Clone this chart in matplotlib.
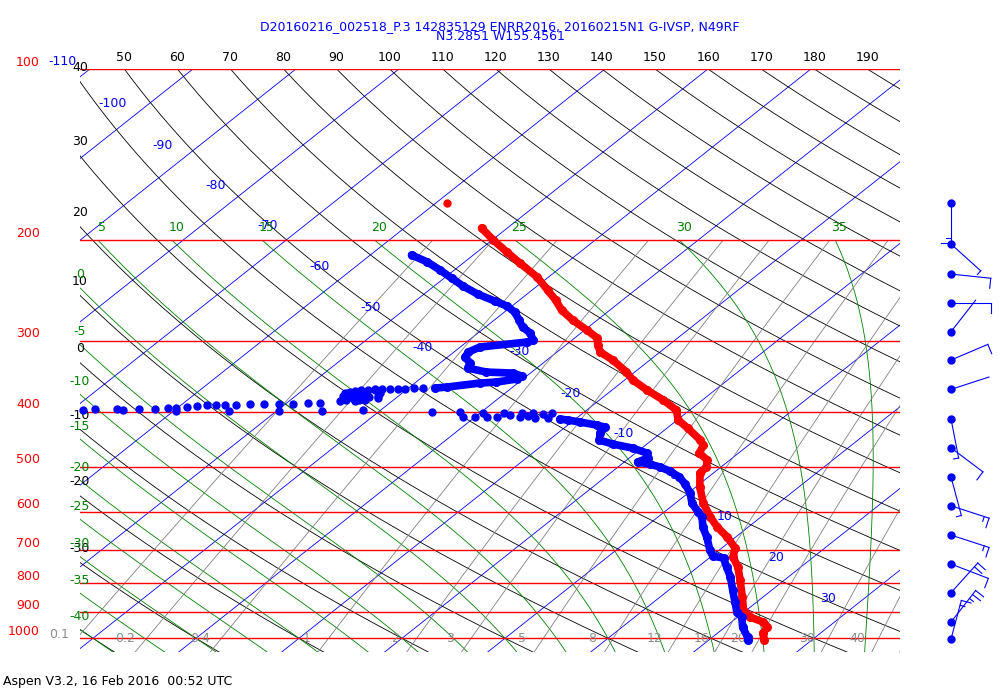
"""Skew-T log-P plot of a dropsonde sounding, Aspen style.
"""
import numpy as np
import matplotlib
matplotlib.use('Agg')
import matplotlib.pyplot as plt
from matplotlib import transforms

# temperature profile (hPa, degC)
t_pres = [190.3, 199.7, 209.7, 219.2, 232.0, 244.5, 254.6, 265.1, 276.0, 287.4,
          296.9, 305.4, 314.2, 324.5, 340.7, 351.9, 366.4, 381.5, 397.3, 413.7,
          427.3, 448.6, 457.7, 472.8, 486.3, 500.3, 512.6, 542.4, 578.8, 612.5,
          637.8, 664.1, 694.3, 720.0, 749.8, 790.3, 846.5, 892.1, 917.8, 936.6,
          955.7, 979.2, 1007.3]
t_temp = [-52.5, -49.9, -47.1, -44.5, -41.1, -38.5, -36.5, -34.7, -32.4, -29.8,
          -27.8, -26.9, -25.8, -23.6, -20.8, -19.2, -16.6, -13.8, -11.3, -9.9,
          -8.0, -5.3, -4.4, -3.8, -2.2, -1.4, -1.3, 0.4, 2.7, 5.1,
          7.0, 9.2, 11.3, 12.2, 13.9, 15.7, 18.0, 19.7, 21.2, 23.1,
          24.1, 24.4, 25.4]
# lone temperature point above the profile
t_odd_pres = [172.0]
t_odd_temp = [-58.9]

# dewpoint, upper continuous part
td_up_pres = [212.2, 218.3, 225.5, 232.9, 240.6, 248.5, 255.6, 260.8, 267.3, 276.0,
              284.0, 291.0, 299.3, 301.7, 307.9, 314.2, 320.6, 328.5, 335.2, 340.7,
              342.1, 346.2, 350.4, 354.7, 356.2, 362.0, 363.5]
td_up_temp = [-56.0, -53.6, -51.4, -49.3, -47.2, -44.8, -42.3, -40.5, -39.0, -37.6,
              -36.4, -34.9, -33.8, -34.1, -38.1, -38.6, -38.3, -37.1, -36.7, -34.4,
              -31.7, -30.5, -30.6, -32.2, -33.7, -36.4, -37.4]
# dewpoint, scattered points around 400 hPa
td_dot_pres = [363.5, 363.5, 364.9, 364.9, 364.9, 366.4, 367.9, 370.9, 375.4, 377.0,
               378.5, 381.5, 383.1, 364.9, 364.9, 366.4, 366.4, 367.9, 369.4, 370.9,
               375.4, 378.5, 380.0, 378.5, 377.0, 375.4, 370.9, 370.9, 372.4, 375.4,
               381.5, 383.1, 381.5,
               386.2, 386.2, 387.8, 387.8, 387.8, 387.8, 389.3, 389.3, 389.3,
               389.3, 390.9, 392.5, 394.1, 394.1, 395.7, 395.7, 397.3, 395.7, 395.7,
               397.3, 398.9, 398.9, 398.9, 398.9, 397.3, 400.5, 400.5, 408.7, 408.7,
               402.1, 408.7, 408.7, 402.1, 405.4, 408.7, 402.1, 407.0, 402.1, 410.3,
               403.7, 410.3, 402.1]
td_dot_temp = [-38.6, -39.5, -40.2, -40.9, -41.7, -43.0, -44.3, -45.3, -44.7, -43.0,
               -41.7, -43.3, -45.1, -42.5, -43.1, -43.7, -44.4, -44.8, -45.2, -45.6,
               -45.4, -44.7, -43.9, -43.3, -42.7, -42.0, -42.2, -43.5, -44.2, -44.5,
               -44.6, -43.6, -42.8,
               -46.8, -47.9, -49.3, -50.6, -52.1, -53.4, -54.7, -55.7, -56.6,
               -57.5, -58.3, -59.2, -60.1, -60.9, -62.0, -63.6, -65.0, -65.7, -67.9,
               -68.9, -59.8, -54.6, -49.8, -45.6, -41.7, -34.8, -32.1, -31.2, -30.0,
               -29.7, -28.8, -27.9, -27.7, -26.8, -25.6, -25.9, -25.0, -24.9, -24.1,
               -23.8, -22.8, -23.0]
# dewpoint, lower continuous part
td_lo_pres = [412.0, 413.7, 417.0, 422.1, 425.5, 436.0, 448.6, 455.9, 463.3, 472.8,
              482.4, 490.3, 494.2, 500.3, 508.4, 520.9, 535.9, 555.8, 578.8, 600.2,
              612.5, 637.8, 664.1, 700.0, 717.1, 722.9, 749.8, 780.7, 822.8, 863.8,
              899.4, 917.8, 955.7, 995.1, 1007.3]
td_lo_temp = [-21.5, -20.6, -19.2, -17.2, -16.2, -15.9, -15.1, -13.3, -10.9, -8.9,
              -8.2, -8.7, -7.3, -5.9, -4.5, -2.8, -1.4, 0.2, 1.6, 3.3,
              4.3, 5.6, 7.2, 9.1, 10.1, 11.4, 12.8, 14.4, 16.2, 17.9,
              19.3, 20.4, 21.7, 23.4, 23.8]

# winds (hPa, direction deg, speed kt)
wind_pres = [171.7, 203.0, 229.2, 257.4, 289.4, 324.5, 365.4, 411.5,
             462.8, 520.4, 585.1, 658.7, 740.6, 831.8, 936.6, 1003.2]
wind_dir = [180, 132, 96, 90, 38, 67, 72, 169, 127, 165, 108, 108, 111, 42, 38, 15]
wind_spd = [15, 5, 10, 10, 2, 10, 2, 5, 10, 5, 15, 15, 10, 20, 25, 15]

# background lines
isobars = [100, 200, 300, 400, 500, 600, 700, 800, 900, 1000]
isotherms = np.arange(-120, 50, 10)
isotherm_lab = np.arange(-110, 40, 10)
dry_theta = np.arange(-40, 200, 10)
moist_tw = np.arange(-40, 40, 5)
mix_ratio = [0.1, 0.2, 0.4, 1, 2, 3, 5, 8, 12, 16, 20, 30, 40]
mix_lab = ['0.1', '0.2', '0.4', '1', '2', '3', '5', '8', '12', '16', '20', '30', '40']

title1 = 'D20160216_002518_P.3 142835129 ENRR2016, 20160215N1 G-IVSP, N49RF'
title2 = 'N3.2851 W155.4561'
footer = 'Aspen V3.2, 16 Feb 2016  00:52 UTC'

# diagram geometry
SKEW = 30.27
X_MIN, X_MAX = -41.26, 38.35
P_BOT, P_TOP = 1057., 100.
WIND_X = 43.3
RD, CP, LV, EPS = 287.04, 1005.7, 2.501e6, 0.622
KAPPA = 0.288
FS = 9


def skew_x(t, p):
    return np.asarray(t, float) + SKEW * np.log(1000. / np.asarray(p, float))


def sat_vap(tc):
    return 6.112 * np.exp(17.67 * tc / (tc + 243.5))


def dew_from_e(e):
    a = np.log(e / 6.112)
    return 243.5 * a / (17.67 - a)


def moist_lapse(tk, p):
    es = sat_vap(tk - 273.15)
    rs = EPS * es / (p - es)
    return (RD * tk + LV * rs) / p / (CP + LV * LV * rs * EPS / (RD * tk * tk))


def moist_adiabat(tw, levels):
    """RK4 integration of pseudo-adiabats starting at 1000 hPa."""
    tk = np.asarray(tw, float) + 273.15
    out = [tk.copy()]
    for p0, p1 in zip(levels[:-1], levels[1:]):
        h = p1 - p0
        k1 = moist_lapse(tk, p0)
        k2 = moist_lapse(tk + 0.5 * h * k1, p0 + 0.5 * h)
        k3 = moist_lapse(tk + 0.5 * h * k2, p0 + 0.5 * h)
        k4 = moist_lapse(tk + h * k3, p1)
        tk = tk + h / 6. * (k1 + 2 * k2 + 2 * k3 + k4)
        out.append(tk.copy())
    return np.array(out) - 273.15


fig = plt.figure(figsize=(10, 7), dpi=100)
ax = fig.add_axes([0.08, 48 / 700, 0.82, 583 / 700])
ax.set_yscale('log')
ax.set_ylim(P_BOT, P_TOP)
ax.set_xlim(X_MIN, X_MAX)
ax.set_axis_off()


def shifted(dx, dy, base=None):
    return transforms.offset_copy(base or ax.transData, fig=fig, x=dx, y=dy, units='dots')


# isobars
lab_tr = transforms.blended_transform_factory(fig.transFigure, ax.transData)
for p in isobars:
    ax.axhline(p, color='red', lw=1.0, zorder=2)
    ax.text(0.040, p, str(p), color='red', fontsize=FS, ha='right', va='center',
            transform=shifted(0, 7, lab_tr))

# isotherms
p2 = np.array([P_TOP, P_BOT])
for t in isotherms:
    ax.plot(skew_x(t, p2), p2, color='blue', lw=0.6, zorder=1)
iso_lab_p = [97, 115, 136, 160, 188, 222, 262, 309, 314, 371, 436, 517, 610, 720, 850]
for t, p in zip(isotherm_lab, iso_lab_p):
    ax.text(skew_x(t, p) - 3.6, p, str(t), color='blue', fontsize=FS,
            ha='center', va='center', clip_on=False)

# dry adiabats
pg = np.geomspace(P_TOP, P_BOT, 200)
for th in dry_theta:
    tt = (th + 273.15) * (pg / 1000.) ** KAPPA - 273.15
    xx = skew_x(tt, pg)
    ax.plot(xx, pg, color='black', lw=0.6, zorder=1)
    if xx[0] >= X_MIN:
        if xx[0] <= X_MAX:
            ax.text(xx[0], P_TOP, str(th), fontsize=FS, ha='center', va='center',
                    transform=shifted(0, 12))
    elif th >= -30:
        pc = np.exp(np.interp(X_MIN, xx, np.log(pg)))
        ax.text(X_MIN, pc, str(th), fontsize=FS, ha='center', va='center',
                transform=shifted(0, 14))

# moist adiabats
p_up = np.arange(1000., 199., -5.)
p_dn = np.arange(1000., 1061., 5.)
m_up = moist_adiabat(moist_tw, p_up)
m_dn = moist_adiabat(moist_tw, p_dn)
pm = np.concatenate([p_up[::-1], p_dn[1:]])
for i, tw in enumerate(moist_tw):
    tm = np.concatenate([m_up[::-1, i], m_dn[1:, i]])
    xx = skew_x(tm, pm)
    ax.plot(xx, pm, color='green', lw=0.6, zorder=1)
    if xx[0] >= X_MIN:
        ax.text(xx[0] + 0.4, pm[0], str(tw), color='green', fontsize=FS, ha='center',
                va='center', transform=shifted(0, 13))
    else:
        pc = np.exp(np.interp(X_MIN, xx, np.log(pm)))
        ax.text(X_MIN, pc, str(tw), color='green', fontsize=FS, ha='center',
                va='center', transform=shifted(0, 13))

# mixing ratio lines
pw = np.geomspace(200., P_BOT, 60)
for w, lab in zip(mix_ratio, mix_lab):
    e = w / 1000. * pw / (EPS + w / 1000.)
    xx = skew_x(dew_from_e(e), pw)
    ax.plot(xx, pw, color='gray', lw=0.6, zorder=1)
    e0 = w / 1000. * 1000. / (EPS + w / 1000.)
    x0 = dew_from_e(e0)
    if x0 >= X_MIN:
        ax.text(x0 - 2.1, 1000., lab, color='#8c8c8c', fontsize=FS,
                ha='center', va='center', clip_on=False)
    else:
        pc = np.exp(np.interp(X_MIN, xx[::-1], np.log(pw[::-1])))
        ax.text(X_MIN - 2.0, pc, lab, color='#8c8c8c', fontsize=FS,
                ha='center', va='center', clip_on=False)

# sounding
ax.plot(skew_x(t_temp, t_pres), t_pres, color='red', lw=5.5, marker='o', ms=5.5,
        solid_capstyle='round', solid_joinstyle='round', zorder=5)
ax.plot(skew_x(t_odd_temp, t_odd_pres), t_odd_pres, 'o', color='red', ms=5, zorder=5)
for pp, tt in [(td_up_pres, td_up_temp), (td_lo_pres, td_lo_temp)]:
    ax.plot(skew_x(tt, pp), pp, color='blue', lw=5.5, marker='o', ms=5.5,
            solid_capstyle='round', solid_joinstyle='round', zorder=5)
ax.plot(skew_x(td_dot_temp, td_dot_pres), td_dot_pres, 'o', color='blue', ms=5,
        zorder=5, clip_on=False)

# wind barbs at the right
wax = fig.add_axes([0, 0, 1, 1])
wax.set_xlim(0, 1000)
wax.set_ylim(0, 700)
wax.set_axis_off()
for p, d, s in zip(wind_pres, wind_dir, wind_spd):
    x0, y0 = ax.transData.transform((WIND_X, p))
    ux, uy = np.sin(np.deg2rad(d)), np.cos(np.deg2rad(d))
    x1, y1 = x0 + 40 * ux, y0 + 40 * uy
    wax.plot([x0, x1], [y0, y1], color='blue', lw=0.8)
    bx, by = uy, -ux
    pos = 0.
    for k in range(int(s // 10)):
        sx, sy = x1 - pos * ux, y1 - pos * uy
        wax.plot([sx, sx + 10 * bx], [sy, sy + 10 * by], color='blue', lw=0.8)
        pos += 5.
    if s % 10 >= 5:
        sx, sy = x1 - pos * ux, y1 - pos * uy
        wax.plot([sx, sx + 5 * bx], [sy, sy + 5 * by], color='blue', lw=0.8)
    wax.plot(x0, y0, 'o', color='blue', ms=5)

# texts
fig.text(0.5, 1 - 27 / 700, title1, color='blue', fontsize=FS, ha='center', va='center')
fig.text(0.5, 1 - 37 / 700, title2, color='blue', fontsize=FS, ha='center', va='center')
fig.text(0.003, 1 - 681 / 700, footer, fontsize=FS, ha='left', va='center')

fig.savefig('out.png', dpi=100)
